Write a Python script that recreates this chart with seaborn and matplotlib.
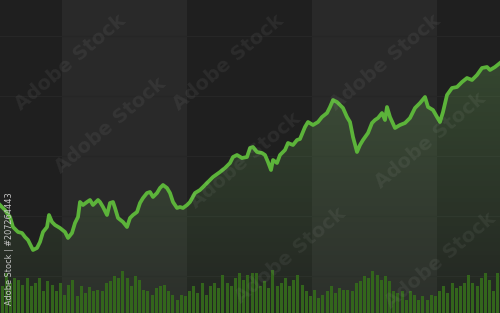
import numpy as np
import pandas as pd
import matplotlib
matplotlib.use("Agg")
import matplotlib.pyplot as plt
import seaborn as sns

# ---- data ----
t = [0, 5, 7, 10, 13, 18, 22, 25, 28, 33, 37, 40, 43, 47, 49, 52, 55, 60, 65, 68, 72, 75, 78, 80, 83, 87, 90, 93, 98,
     100, 103, 107, 110, 113, 115, 118, 123, 127, 130, 133, 137, 140, 143, 147, 150, 153, 157, 160, 163, 167, 170, 173, 177, 180, 183, 187, 190, 195,
     200, 207, 213, 220, 225, 230, 233, 237, 242, 247, 250, 253, 257, 262, 265, 268, 271, 273, 277, 280, 285, 288, 293, 297,
     300, 305, 308, 313, 318, 322, 327, 330, 333, 337, 340, 343, 347, 350, 353, 357, 360, 363, 368, 372, 375, 378, 382, 385, 387, 390, 395,
     400, 405, 410, 415, 420, 425, 428, 433, 437, 440, 443, 447, 452, 457, 462, 467, 472, 477, 482, 487, 490, 495, 500]

price = [108, 103, 100, 96, 86, 81, 80, 76, 73, 63, 65, 71, 81, 86, 98, 91, 88, 85, 81, 75, 80, 90, 96, 111, 108, 111, 113, 108, 113,
         111, 106, 98, 110, 111, 105, 95, 91, 86, 95, 98, 101, 110, 115, 120, 121, 116, 120, 125, 128, 125, 120, 111, 105, 106, 105, 108, 111, 120,
         123, 130, 136, 141, 145, 150, 156, 158, 155, 156, 165, 166, 161, 160, 158, 151, 143, 153, 150, 158, 163, 170, 168, 173,
         174, 186, 191, 188, 191, 196, 200, 206, 213, 211, 208, 205, 196, 191, 176, 161, 168, 173, 180, 190, 193, 195, 200, 193, 206, 196, 185,
         188, 190, 195, 205, 210, 216, 206, 203, 196, 191, 201, 218, 225, 226, 231, 235, 233, 238, 245, 246, 243, 246, 250]

volume = [27, 40, 30, 35, 33, 28, 35, 27, 30, 35, 22, 32, 28, 22, 30, 18, 28, 33, 17, 27,
          20, 26, 22, 23, 22, 30, 32, 37, 35, 42, 35, 27, 37, 33, 23, 22, 18, 25, 27, 28,
          22, 18, 13, 18, 17, 22, 27, 20, 30, 18, 27, 30, 25, 38, 30, 27, 35, 40, 33, 38,
          40, 40, 27, 32, 25, 43, 27, 30, 35, 27, 33, 38, 28, 22, 17, 23, 15, 18, 22, 27,
          20, 25, 23, 23, 22, 30, 32, 37, 35, 42, 38, 33, 37, 32, 22, 20, 22, 13, 22, 18,
          13, 17, 13, 18, 17, 22, 27, 20, 30, 25, 27, 30, 38, 30, 27, 35, 40, 33, 22, 40]

df = pd.DataFrame({"t": t, "price": price})

W, H = 500, 313
fig = plt.figure(figsize=(5.0, 3.13), dpi=100)
ax = fig.add_axes([0, 0, 1, 1])
fig.patch.set_facecolor("#1f1f1f")

# background vertical bands
edges = [0, 62, 187, 312, 437, 500]
cols = ["#1f1f1f", "#292929", "#1f1f1f", "#292929", "#1f1f1f"]
for (a, b), c in zip(zip(edges[:-1], edges[1:]), cols):
    ax.axvspan(a, b, color=c, zorder=0, lw=0)

# horizontal grid lines
for gy in [277, 217, 157, 97, 37]:
    ax.axhline(gy, color="#262626", lw=0.9, zorder=0.5)

# gradient fill under the line
poly = ax.fill_between(t, price, 0, facecolor="none", edgecolor="none", zorder=1)
grad = np.linspace(0, 1, 256).reshape(-1, 1)
rgba = np.zeros((256, 1, 4))
rgba[..., 0] = 0.42
rgba[..., 1] = 0.66
rgba[..., 2] = 0.35
rgba[..., 3] = 0.05 + 0.25 * grad
im = ax.imshow(rgba, extent=[0, W, 0, 260], origin="lower", aspect="auto", zorder=1)
im.set_clip_path(poly.get_paths()[0], transform=ax.transData)

# volume bars
n = len(volume)
step = W / n
xs = [(i + 0.5) * step for i in range(n)]
ax.bar(xs, volume, width=step * 0.72, color="#33651c", zorder=2, lw=0)

# price line
sns.lineplot(data=df, x="t", y="price", ax=ax, color="#5cb33a", lw=2.7, zorder=3, sort=False)
ax.set_xlim(0, W)
ax.set_ylim(0, H)
ax.axis("off")

# watermarks (kept inside the frame)
wm = [(110, 125), (245, 160), (385, 62), (430, 140), (70, 62), (290, 255), (440, 260), (228, 62)]
for x, y in wm:
    ax.text(x, H - y, "Adobe Stock", color="white", alpha=0.06, fontsize=14, fontweight="bold",
            rotation=40, ha="center", va="center", zorder=4)

ax.text(10, H - 305, "Adobe Stock | #207264443", color="#c8c8c8", fontsize=5.9, rotation=90,
        ha="center", va="bottom", zorder=5)

fig.savefig("out.png", dpi=100, facecolor=fig.get_facecolor())
